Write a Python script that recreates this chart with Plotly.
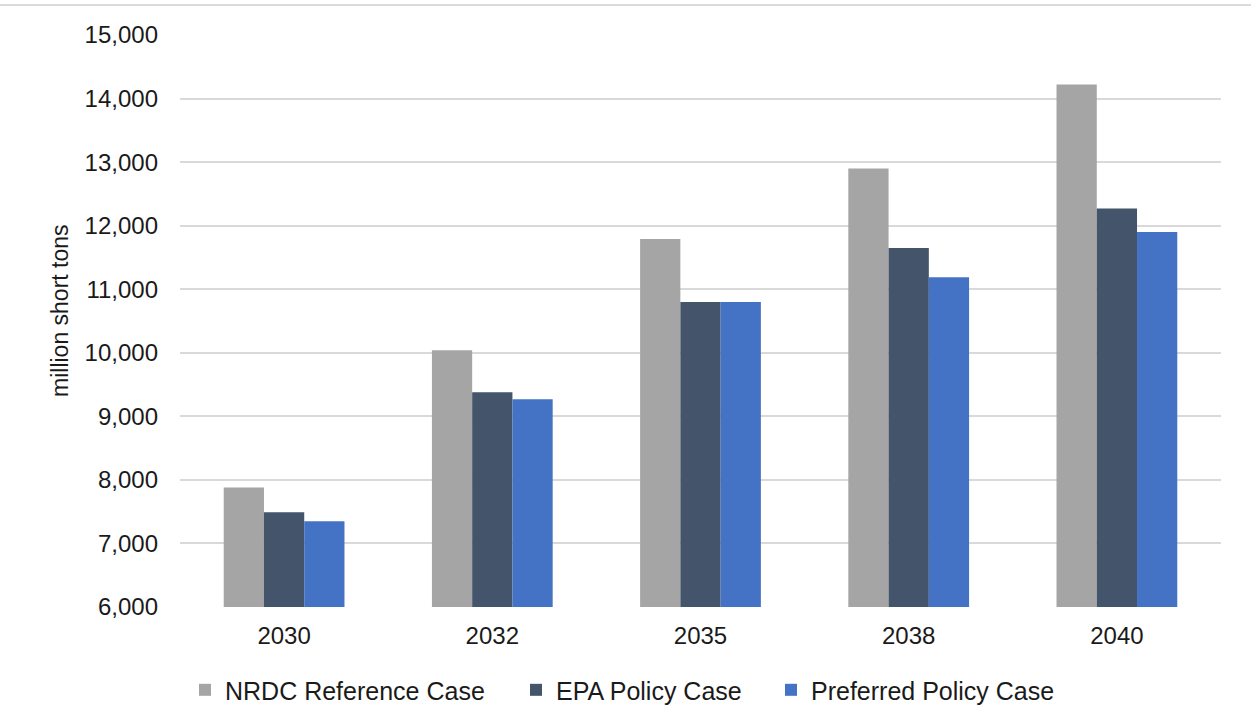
import plotly.graph_objects as go

years = ["2030", "2032", "2035", "2038", "2040"]
nrdc_reference = [7880, 10040, 11790, 12900, 14220]
epa_policy = [7490, 9380, 10800, 11650, 12270]
preferred_policy = [7350, 9270, 10800, 11190, 11900]

series_names = ["NRDC Reference Case", "EPA Policy Case", "Preferred Policy Case"]
colors = ["#a5a5a5", "#44546a", "#4472c4"]
legend_ids = ["legend", "legend2", "legend3"]
y_ticks = list(range(6000, 15001, 1000))
y_title = "million short tons"

L, R, T, B = 180, 30, 35, 118
W, H = 1251, 725
pw = W - L - R
ph = H - T - B

def px_to_x(px):
    return (px - L) / pw

fig = go.Figure()
for name, vals, col, lg in zip(series_names, [nrdc_reference, epa_policy, preferred_policy], colors, legend_ids):
    fig.add_trace(go.Bar(x=years, y=vals, name=name, legend=lg,
                         marker=dict(color=col, line=dict(width=0))))

font_family = "Liberation Sans, Arial, sans-serif"
legend_text_starts = [225, 556, 811]
legend_common = dict(orientation="h", y=-0.105, yanchor="top", xanchor="left",
                     font=dict(size=25, color="#1a1a1a"), bgcolor="rgba(0,0,0,0)",
                     borderwidth=0, visible=True)
legends = {}
for lg, ts in zip(legend_ids, legend_text_starts):
    legends[lg] = dict(legend_common, x=px_to_x(ts - 40))

fig.update_layout(
    width=W, height=H,
    margin=dict(l=L, r=R, t=T, b=B),
    paper_bgcolor="white", plot_bgcolor="white",
    showlegend=True,
    barmode="group", bargap=0.42, bargroupgap=0,
    font=dict(family=font_family, size=24, color="#1a1a1a"),
    xaxis=dict(showline=False, ticks="", tickfont=dict(size=24), ticklabelstandoff=12),
    yaxis=dict(range=[6000, 15000], tickvals=y_ticks, tickformat=",",
               showgrid=True, gridcolor="#d9d9d9", gridwidth=1.5,
               zeroline=False, showline=False, ticks="", tickfont=dict(size=24),
               ticklabelstandoff=21),
    **legends,
    annotations=[
        dict(text=y_title, xref="paper", yref="paper", x=px_to_x(60), y=1 - (311 - T) / ph,
             xanchor="center", yanchor="middle", textangle=-90, showarrow=False,
             font=dict(size=23, color="#1a1a1a")),
    ],
    shapes=[
        dict(type="line", xref="paper", yref="paper", x0=-L / pw, x1=1 + R / pw,
             y0=1 + (T - 5) / ph, y1=1 + (T - 5) / ph,
             line=dict(color="#cfcfcf", width=1.5)),
    ],
)
fig.write_html("out.html")
